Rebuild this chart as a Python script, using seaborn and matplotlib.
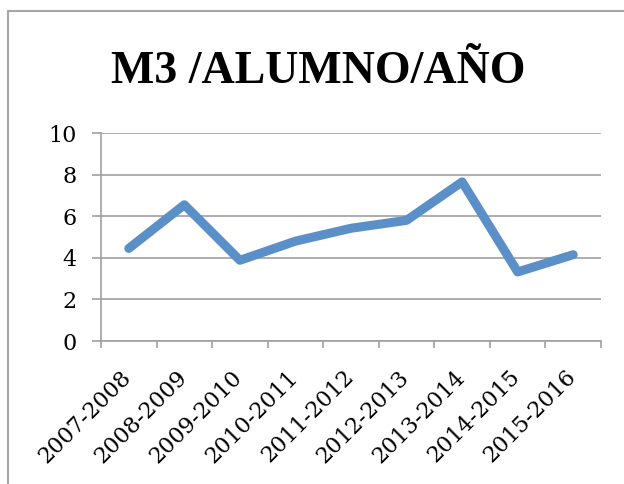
import matplotlib
matplotlib.use("Agg")
import matplotlib.pyplot as plt
import matplotlib.transforms as mtransforms
from matplotlib.patches import Rectangle
import numpy as np
import pandas as pd
import seaborn as sns

# School years and cubic metres per student
years = ["2007-2008", "2008-2009", "2009-2010", "2010-2011", "2011-2012",
         "2012-2013", "2013-2014", "2014-2015", "2015-2016"]
m3_per_student = [4.45, 6.55, 3.88, 4.80, 5.42, 5.80, 7.65, 3.32, 4.15]
y_ticks = [0, 2, 4, 6, 8, 10]
title = "M3 /ALUMNO/AÑO"

sns.set_theme(style="white")
plt.rcParams["font.family"] = ["DejaVu Serif"]
plt.rcParams["text.color"] = "black"

GRAY = "#A0A0A0"
LINE = "#5B8FC8"

df = pd.DataFrame({"pos": np.arange(len(years)), "value": m3_per_student})

fig = plt.figure(figsize=(6.24, 4.84), dpi=100)
W, H = 624, 484
ax = fig.add_axes([101 / W, 1 - 341 / H, 500 / W, 208 / H])

sns.lineplot(data=df, x="pos", y="value", ax=ax, color=LINE, linewidth=6.5,
             solid_capstyle="round", solid_joinstyle="round")

ax.set_xlim(-0.5, len(years) - 0.5)
ax.set_ylim(0, 10)
ax.set_xlabel("")
ax.set_ylabel("")

# y axis: gridlines and outward ticks
ax.set_yticks(y_ticks)
ax.set_yticklabels([str(t) for t in y_ticks], fontsize=16, color="black")
ax.yaxis.grid(True, color=GRAY, linewidth=1.2)
ax.xaxis.grid(False)
ax.tick_params(axis="y", which="major", left=True, direction="out",
               length=6.5, width=1.2, color=GRAY, pad=11)

# x axis: labels at category centres, tick marks on category boundaries
ax.set_xticks(np.arange(len(years)))
ax.set_xticklabels(years, rotation=45, ha="right", rotation_mode="anchor",
                   fontsize=16, color="black")
ax.set_xticks(np.arange(len(years) + 1) - 0.5, minor=True)
ax.tick_params(axis="x", which="major", bottom=True, length=0, pad=18)
ax.tick_params(axis="x", which="minor", bottom=True, direction="out",
               length=5, width=1.2, color=GRAY)
offset = mtransforms.ScaledTranslation(-6 / 72, 0, fig.dpi_scale_trans)
for lbl in ax.get_xticklabels():
    lbl.set_transform(lbl.get_transform() + offset)

for side in ["top", "right"]:
    ax.spines[side].set_visible(False)
for side in ["left", "bottom"]:
    ax.spines[side].set_color(GRAY)
    ax.spines[side].set_linewidth(1.2)

fig.text(318 / W, 1 - 83 / H, title, ha="center", va="baseline",
         fontsize=33, fontweight="bold", color="black",
         family=["Liberation Serif"])

# chart border
fig.patches.append(Rectangle((8 / W, -0.1), 1.2, 1 - 11 / H + 0.1,
                             transform=fig.transFigure, fill=False,
                             edgecolor="#A6A6A6", linewidth=1.5))

fig.savefig("out.png", dpi=100)
